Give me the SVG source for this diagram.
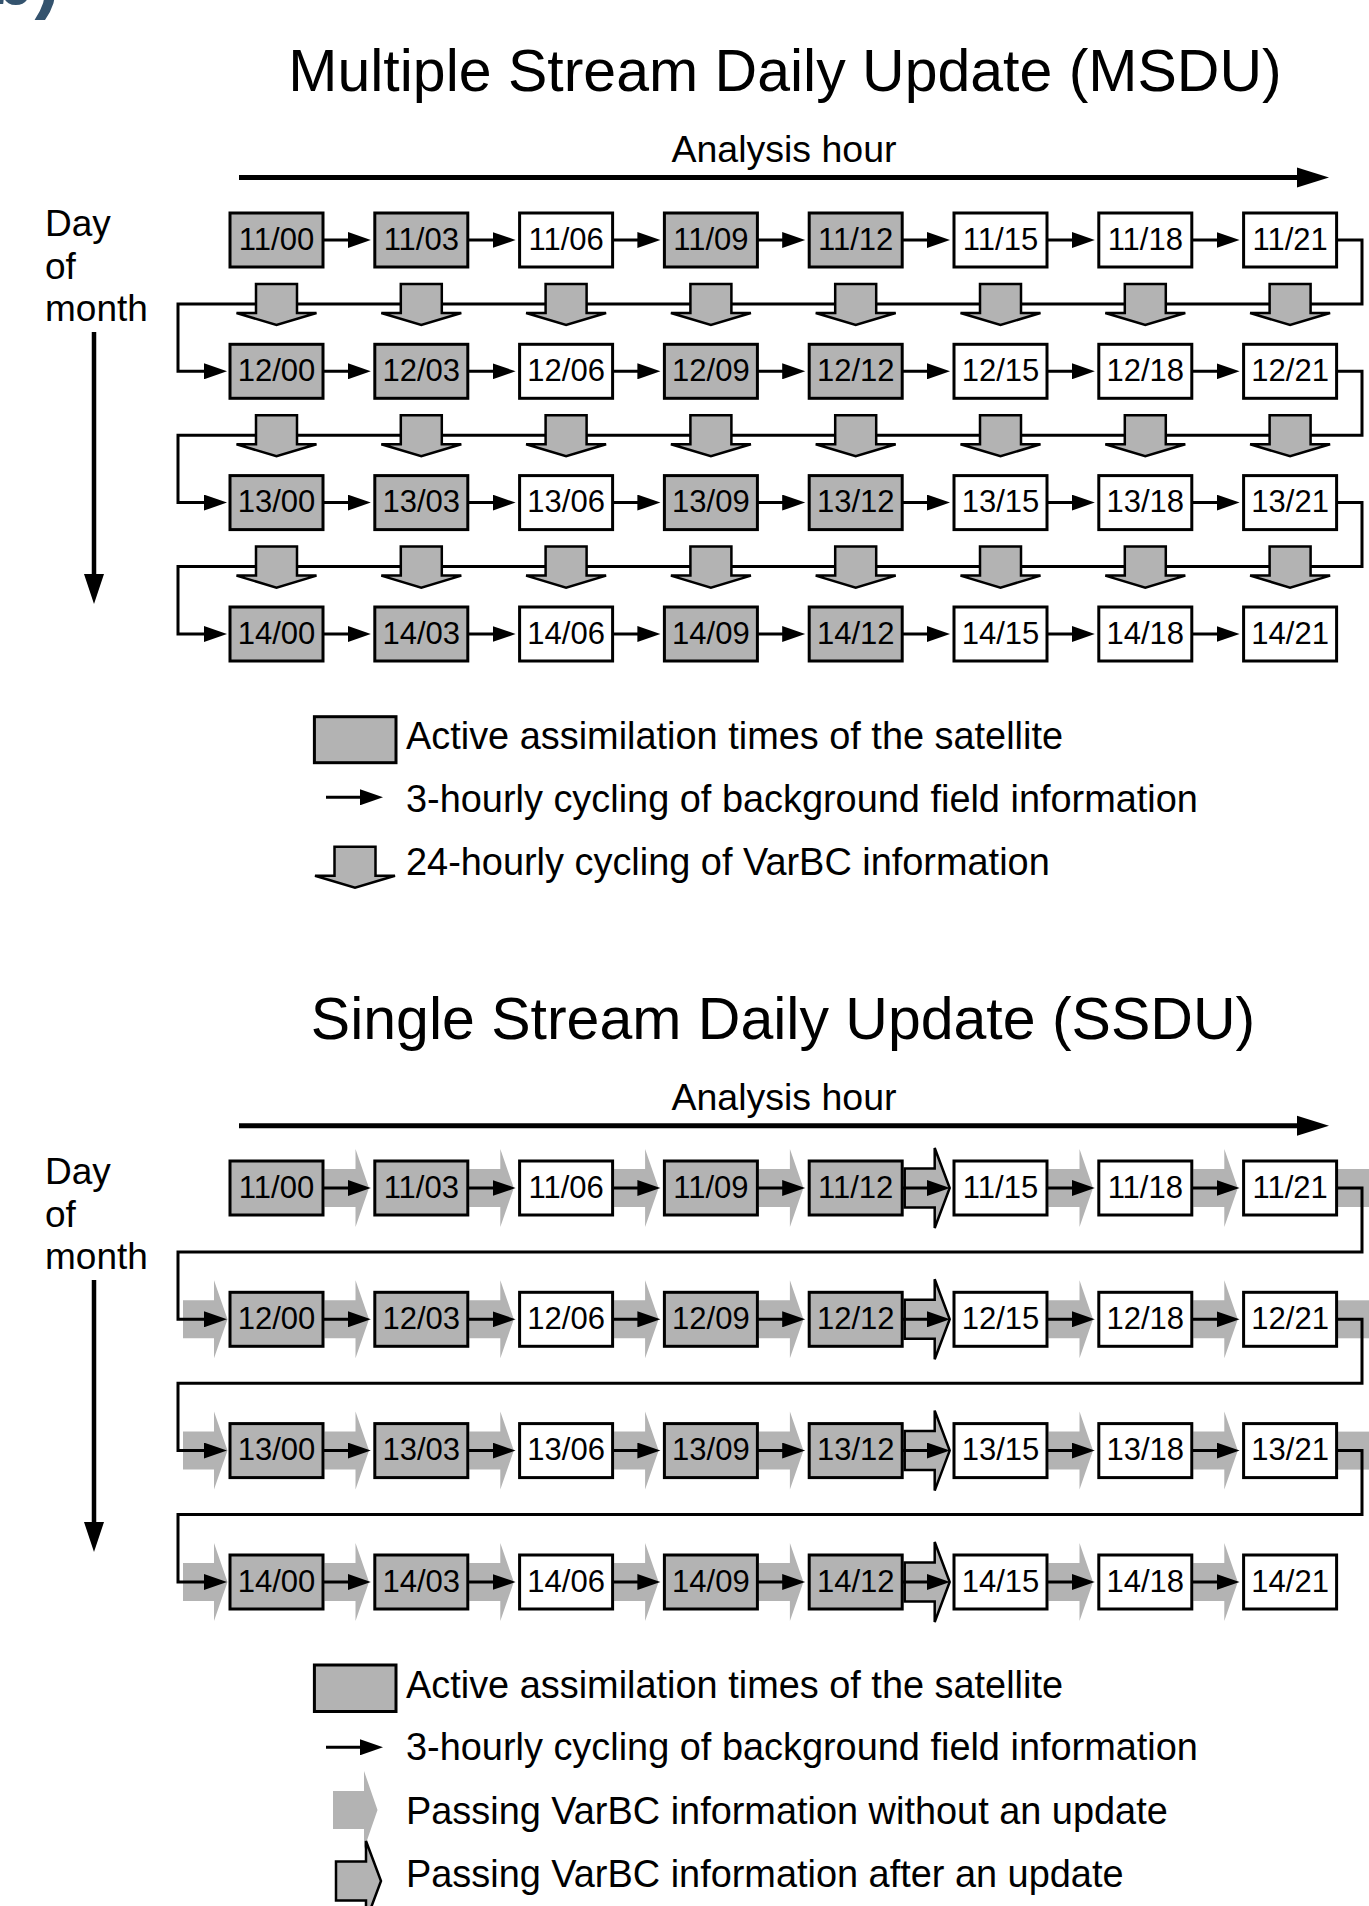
<svg xmlns="http://www.w3.org/2000/svg" xmlns:xlink="http://www.w3.org/1999/xlink" width="1369" height="1906" viewBox="0 0 1369 1906">
<style>
text{font-family:"Liberation Sans",Arial,Helvetica,sans-serif;fill:#000}
.ttl{font-size:59px;text-anchor:middle}
.ax{font-size:37.5px;text-anchor:middle}
.dm{font-size:37px}
.lg{font-size:37.9px}
.lb{font-size:31px;text-anchor:middle}
.bx{stroke:#000;stroke-width:3}
.on{fill:#b3b3b3}
.off{fill:#fff}
.ln{stroke:#000;stroke-width:3;fill:none}
.thick{stroke:#000;stroke-width:5;fill:none}
.blk{fill:#b3b3b3;stroke:#000;stroke-width:2.5;stroke-linejoin:miter}
.chv{fill:#b3b3b3}
.chvo{fill:#b3b3b3;stroke:#000;stroke-width:2.5;stroke-linejoin:miter}
.lab{font-size:76px;font-weight:bold;fill:#34536e}
</style>
<defs>
<marker id="ah" markerUnits="userSpaceOnUse" markerWidth="24" markerHeight="16" refX="13" refY="8" orient="auto"><path d="M0,0 L23,8 L0,16 Z" fill="#000"/></marker>
<path id="blk" class="blk" d="M-20.5,0 H20.5 V29 H40 L0,41 L-40,29 H-20.5 Z"/>
<path id="chv" class="chv" d="M0,-19 H31 V-39 L44.5,0 L31,39 V19 H0 Z"/>
<path id="chvo" class="chvo" d="M0,-19.5 H30 V-40 L45,0 L30,40 V19.5 H0 Z"/>
</defs>

<text class="lab" x="-12" y="4">b)</text>

<!-- ===================== MSDU ===================== -->
<g id="msdu-header">
<text class="ttl" x="785" y="91">Multiple Stream Daily Update (MSDU)</text>
<text class="ax" x="784" y="162">Analysis hour</text>
<line class="thick" x1="239" y1="177.5" x2="1300" y2="177.5"/>
<polygon points="1297,167.5 1329,177.5 1297,187.5"/>
<text class="dm" x="45" y="236">Day</text>
<text class="dm" x="45" y="278.5">of</text>
<text class="dm" x="45" y="321">month</text>
<line x1="94" y1="332" x2="94" y2="578" stroke="#000" stroke-width="4.5"/>
<polygon points="84,574 104,574 94,604"/>
</g>

<g id="msdu-nodes">
<g id="msdu-11-00"><rect class="bx on" x="230" y="213" width="93" height="54"/><text class="lb" x="276.5" y="249.5">11/00</text></g>
<g id="msdu-11-03"><rect class="bx on" x="374.8" y="213" width="93" height="54"/><text class="lb" x="421.3" y="249.5">11/03</text></g>
<g id="msdu-11-06"><rect class="bx off" x="519.6" y="213" width="93" height="54"/><text class="lb" x="566.1" y="249.5">11/06</text></g>
<g id="msdu-11-09"><rect class="bx on" x="664.4" y="213" width="93" height="54"/><text class="lb" x="710.9" y="249.5">11/09</text></g>
<g id="msdu-11-12"><rect class="bx on" x="809.2" y="213" width="93" height="54"/><text class="lb" x="855.7" y="249.5">11/12</text></g>
<g id="msdu-11-15"><rect class="bx off" x="954" y="213" width="93" height="54"/><text class="lb" x="1000.5" y="249.5">11/15</text></g>
<g id="msdu-11-18"><rect class="bx off" x="1098.8" y="213" width="93" height="54"/><text class="lb" x="1145.3" y="249.5">11/18</text></g>
<g id="msdu-11-21"><rect class="bx off" x="1243.6" y="213" width="93" height="54"/><text class="lb" x="1290.1" y="249.5">11/21</text></g>

<g id="msdu-12-00"><rect class="bx on" x="230" y="344.3" width="93" height="54"/><text class="lb" x="276.5" y="380.8">12/00</text></g>
<g id="msdu-12-03"><rect class="bx on" x="374.8" y="344.3" width="93" height="54"/><text class="lb" x="421.3" y="380.8">12/03</text></g>
<g id="msdu-12-06"><rect class="bx off" x="519.6" y="344.3" width="93" height="54"/><text class="lb" x="566.1" y="380.8">12/06</text></g>
<g id="msdu-12-09"><rect class="bx on" x="664.4" y="344.3" width="93" height="54"/><text class="lb" x="710.9" y="380.8">12/09</text></g>
<g id="msdu-12-12"><rect class="bx on" x="809.2" y="344.3" width="93" height="54"/><text class="lb" x="855.7" y="380.8">12/12</text></g>
<g id="msdu-12-15"><rect class="bx off" x="954" y="344.3" width="93" height="54"/><text class="lb" x="1000.5" y="380.8">12/15</text></g>
<g id="msdu-12-18"><rect class="bx off" x="1098.8" y="344.3" width="93" height="54"/><text class="lb" x="1145.3" y="380.8">12/18</text></g>
<g id="msdu-12-21"><rect class="bx off" x="1243.6" y="344.3" width="93" height="54"/><text class="lb" x="1290.1" y="380.8">12/21</text></g>

<g id="msdu-13-00"><rect class="bx on" x="230" y="475.6" width="93" height="54"/><text class="lb" x="276.5" y="512.1">13/00</text></g>
<g id="msdu-13-03"><rect class="bx on" x="374.8" y="475.6" width="93" height="54"/><text class="lb" x="421.3" y="512.1">13/03</text></g>
<g id="msdu-13-06"><rect class="bx off" x="519.6" y="475.6" width="93" height="54"/><text class="lb" x="566.1" y="512.1">13/06</text></g>
<g id="msdu-13-09"><rect class="bx on" x="664.4" y="475.6" width="93" height="54"/><text class="lb" x="710.9" y="512.1">13/09</text></g>
<g id="msdu-13-12"><rect class="bx on" x="809.2" y="475.6" width="93" height="54"/><text class="lb" x="855.7" y="512.1">13/12</text></g>
<g id="msdu-13-15"><rect class="bx off" x="954" y="475.6" width="93" height="54"/><text class="lb" x="1000.5" y="512.1">13/15</text></g>
<g id="msdu-13-18"><rect class="bx off" x="1098.8" y="475.6" width="93" height="54"/><text class="lb" x="1145.3" y="512.1">13/18</text></g>
<g id="msdu-13-21"><rect class="bx off" x="1243.6" y="475.6" width="93" height="54"/><text class="lb" x="1290.1" y="512.1">13/21</text></g>

<g id="msdu-14-00"><rect class="bx on" x="230" y="607" width="93" height="54"/><text class="lb" x="276.5" y="643.5">14/00</text></g>
<g id="msdu-14-03"><rect class="bx on" x="374.8" y="607" width="93" height="54"/><text class="lb" x="421.3" y="643.5">14/03</text></g>
<g id="msdu-14-06"><rect class="bx off" x="519.6" y="607" width="93" height="54"/><text class="lb" x="566.1" y="643.5">14/06</text></g>
<g id="msdu-14-09"><rect class="bx on" x="664.4" y="607" width="93" height="54"/><text class="lb" x="710.9" y="643.5">14/09</text></g>
<g id="msdu-14-12"><rect class="bx on" x="809.2" y="607" width="93" height="54"/><text class="lb" x="855.7" y="643.5">14/12</text></g>
<g id="msdu-14-15"><rect class="bx off" x="954" y="607" width="93" height="54"/><text class="lb" x="1000.5" y="643.5">14/15</text></g>
<g id="msdu-14-18"><rect class="bx off" x="1098.8" y="607" width="93" height="54"/><text class="lb" x="1145.3" y="643.5">14/18</text></g>
<g id="msdu-14-21"><rect class="bx off" x="1243.6" y="607" width="93" height="54"/><text class="lb" x="1290.1" y="643.5">14/21</text></g>
</g>

<g id="msdu-connectors">
<g class="ln" marker-end="url(#ah)">
<line x1="323" y1="240" x2="360.8" y2="240"/><line x1="467.8" y1="240" x2="505.6" y2="240"/><line x1="612.6" y1="240" x2="650.4" y2="240"/><line x1="757.4" y1="240" x2="795.2" y2="240"/><line x1="902.2" y1="240" x2="940" y2="240"/><line x1="1047" y1="240" x2="1084.8" y2="240"/><line x1="1191.8" y1="240" x2="1229.6" y2="240"/>
<line x1="323" y1="371.3" x2="360.8" y2="371.3"/><line x1="467.8" y1="371.3" x2="505.6" y2="371.3"/><line x1="612.6" y1="371.3" x2="650.4" y2="371.3"/><line x1="757.4" y1="371.3" x2="795.2" y2="371.3"/><line x1="902.2" y1="371.3" x2="940" y2="371.3"/><line x1="1047" y1="371.3" x2="1084.8" y2="371.3"/><line x1="1191.8" y1="371.3" x2="1229.6" y2="371.3"/>
<line x1="323" y1="502.6" x2="360.8" y2="502.6"/><line x1="467.8" y1="502.6" x2="505.6" y2="502.6"/><line x1="612.6" y1="502.6" x2="650.4" y2="502.6"/><line x1="757.4" y1="502.6" x2="795.2" y2="502.6"/><line x1="902.2" y1="502.6" x2="940" y2="502.6"/><line x1="1047" y1="502.6" x2="1084.8" y2="502.6"/><line x1="1191.8" y1="502.6" x2="1229.6" y2="502.6"/>
<line x1="323" y1="634" x2="360.8" y2="634"/><line x1="467.8" y1="634" x2="505.6" y2="634"/><line x1="612.6" y1="634" x2="650.4" y2="634"/><line x1="757.4" y1="634" x2="795.2" y2="634"/><line x1="902.2" y1="634" x2="940" y2="634"/><line x1="1047" y1="634" x2="1084.8" y2="634"/><line x1="1191.8" y1="634" x2="1229.6" y2="634"/>
<path d="M1336.6,240 H1362 V304 H178 V371.3 H217"/>
<path d="M1336.6,371.3 H1362 V435.3 H178 V502.6 H217"/>
<path d="M1336.6,502.6 H1362 V566.6 H178 V634 H217"/>
</g>
<g id="msdu-varbc">
<use xlink:href="#blk" x="276.5" y="284"/><use xlink:href="#blk" x="421.3" y="284"/><use xlink:href="#blk" x="566.1" y="284"/><use xlink:href="#blk" x="710.9" y="284"/><use xlink:href="#blk" x="855.7" y="284"/><use xlink:href="#blk" x="1000.5" y="284"/><use xlink:href="#blk" x="1145.3" y="284"/><use xlink:href="#blk" x="1290.1" y="284"/>
<use xlink:href="#blk" x="276.5" y="415.3"/><use xlink:href="#blk" x="421.3" y="415.3"/><use xlink:href="#blk" x="566.1" y="415.3"/><use xlink:href="#blk" x="710.9" y="415.3"/><use xlink:href="#blk" x="855.7" y="415.3"/><use xlink:href="#blk" x="1000.5" y="415.3"/><use xlink:href="#blk" x="1145.3" y="415.3"/><use xlink:href="#blk" x="1290.1" y="415.3"/>
<use xlink:href="#blk" x="276.5" y="546.6"/><use xlink:href="#blk" x="421.3" y="546.6"/><use xlink:href="#blk" x="566.1" y="546.6"/><use xlink:href="#blk" x="710.9" y="546.6"/><use xlink:href="#blk" x="855.7" y="546.6"/><use xlink:href="#blk" x="1000.5" y="546.6"/><use xlink:href="#blk" x="1145.3" y="546.6"/><use xlink:href="#blk" x="1290.1" y="546.6"/>
</g>
</g>

<g id="msdu-legend">
<rect class="bx on" x="314.4" y="716.7" width="81.6" height="46"/>
<line class="ln" x1="326" y1="797.3" x2="373" y2="797.3" marker-end="url(#ah)"/>
<use xlink:href="#blk" x="355" y="846.7"/>
<text class="lg" x="406" y="749.3">Active assimilation times of the satellite</text>
<text class="lg" x="406" y="811.5">3-hourly cycling of background field information</text>
<text class="lg" x="406" y="875">24-hourly cycling of VarBC information</text>
</g>

<!-- ===================== SSDU ===================== -->
<g id="ssdu-header">
<text class="ttl" x="783" y="1039">Single Stream Daily Update (SSDU)</text>
<text class="ax" x="784" y="1110">Analysis hour</text>
<line class="thick" x1="239" y1="1125.7" x2="1300" y2="1125.7"/>
<polygon points="1297,1115.7 1329,1125.7 1297,1135.7"/>
<text class="dm" x="45" y="1184">Day</text>
<text class="dm" x="45" y="1226.5">of</text>
<text class="dm" x="45" y="1269">month</text>
<line x1="94" y1="1280" x2="94" y2="1526" stroke="#000" stroke-width="4.5"/>
<polygon points="84,1522 104,1522 94,1552"/>
</g>

<g id="ssdu-varbc-passing">
<use xlink:href="#chv" x="324.5" y="1188"/><use xlink:href="#chv" x="469.3" y="1188"/><use xlink:href="#chv" x="614.1" y="1188"/><use xlink:href="#chv" x="758.9" y="1188"/><use xlink:href="#chv" x="1048.5" y="1188"/><use xlink:href="#chv" x="1193.3" y="1188"/>
<rect class="chv" x="1338" y="1169" width="40" height="38"/>
<use xlink:href="#chv" x="183" y="1319.3"/>
<use xlink:href="#chv" x="324.5" y="1319.3"/><use xlink:href="#chv" x="469.3" y="1319.3"/><use xlink:href="#chv" x="614.1" y="1319.3"/><use xlink:href="#chv" x="758.9" y="1319.3"/><use xlink:href="#chv" x="1048.5" y="1319.3"/><use xlink:href="#chv" x="1193.3" y="1319.3"/>
<rect class="chv" x="1338" y="1300.3" width="40" height="38"/>
<use xlink:href="#chv" x="183" y="1450.6"/>
<use xlink:href="#chv" x="324.5" y="1450.6"/><use xlink:href="#chv" x="469.3" y="1450.6"/><use xlink:href="#chv" x="614.1" y="1450.6"/><use xlink:href="#chv" x="758.9" y="1450.6"/><use xlink:href="#chv" x="1048.5" y="1450.6"/><use xlink:href="#chv" x="1193.3" y="1450.6"/>
<rect class="chv" x="1338" y="1431.6" width="40" height="38"/>
<use xlink:href="#chv" x="183" y="1582"/>
<use xlink:href="#chv" x="324.5" y="1582"/><use xlink:href="#chv" x="469.3" y="1582"/><use xlink:href="#chv" x="614.1" y="1582"/><use xlink:href="#chv" x="758.9" y="1582"/><use xlink:href="#chv" x="1048.5" y="1582"/><use xlink:href="#chv" x="1193.3" y="1582"/>
<use xlink:href="#chvo" x="904.7" y="1188"/><use xlink:href="#chvo" x="904.7" y="1319.3"/><use xlink:href="#chvo" x="904.7" y="1450.6"/><use xlink:href="#chvo" x="904.7" y="1582"/>
</g>

<g id="ssdu-nodes">
<g id="ssdu-11-00"><rect class="bx on" x="230" y="1161" width="93" height="54"/><text class="lb" x="276.5" y="1197.5">11/00</text></g>
<g id="ssdu-11-03"><rect class="bx on" x="374.8" y="1161" width="93" height="54"/><text class="lb" x="421.3" y="1197.5">11/03</text></g>
<g id="ssdu-11-06"><rect class="bx off" x="519.6" y="1161" width="93" height="54"/><text class="lb" x="566.1" y="1197.5">11/06</text></g>
<g id="ssdu-11-09"><rect class="bx on" x="664.4" y="1161" width="93" height="54"/><text class="lb" x="710.9" y="1197.5">11/09</text></g>
<g id="ssdu-11-12"><rect class="bx on" x="809.2" y="1161" width="93" height="54"/><text class="lb" x="855.7" y="1197.5">11/12</text></g>
<g id="ssdu-11-15"><rect class="bx off" x="954" y="1161" width="93" height="54"/><text class="lb" x="1000.5" y="1197.5">11/15</text></g>
<g id="ssdu-11-18"><rect class="bx off" x="1098.8" y="1161" width="93" height="54"/><text class="lb" x="1145.3" y="1197.5">11/18</text></g>
<g id="ssdu-11-21"><rect class="bx off" x="1243.6" y="1161" width="93" height="54"/><text class="lb" x="1290.1" y="1197.5">11/21</text></g>

<g id="ssdu-12-00"><rect class="bx on" x="230" y="1292.3" width="93" height="54"/><text class="lb" x="276.5" y="1328.8">12/00</text></g>
<g id="ssdu-12-03"><rect class="bx on" x="374.8" y="1292.3" width="93" height="54"/><text class="lb" x="421.3" y="1328.8">12/03</text></g>
<g id="ssdu-12-06"><rect class="bx off" x="519.6" y="1292.3" width="93" height="54"/><text class="lb" x="566.1" y="1328.8">12/06</text></g>
<g id="ssdu-12-09"><rect class="bx on" x="664.4" y="1292.3" width="93" height="54"/><text class="lb" x="710.9" y="1328.8">12/09</text></g>
<g id="ssdu-12-12"><rect class="bx on" x="809.2" y="1292.3" width="93" height="54"/><text class="lb" x="855.7" y="1328.8">12/12</text></g>
<g id="ssdu-12-15"><rect class="bx off" x="954" y="1292.3" width="93" height="54"/><text class="lb" x="1000.5" y="1328.8">12/15</text></g>
<g id="ssdu-12-18"><rect class="bx off" x="1098.8" y="1292.3" width="93" height="54"/><text class="lb" x="1145.3" y="1328.8">12/18</text></g>
<g id="ssdu-12-21"><rect class="bx off" x="1243.6" y="1292.3" width="93" height="54"/><text class="lb" x="1290.1" y="1328.8">12/21</text></g>

<g id="ssdu-13-00"><rect class="bx on" x="230" y="1423.6" width="93" height="54"/><text class="lb" x="276.5" y="1460.1">13/00</text></g>
<g id="ssdu-13-03"><rect class="bx on" x="374.8" y="1423.6" width="93" height="54"/><text class="lb" x="421.3" y="1460.1">13/03</text></g>
<g id="ssdu-13-06"><rect class="bx off" x="519.6" y="1423.6" width="93" height="54"/><text class="lb" x="566.1" y="1460.1">13/06</text></g>
<g id="ssdu-13-09"><rect class="bx on" x="664.4" y="1423.6" width="93" height="54"/><text class="lb" x="710.9" y="1460.1">13/09</text></g>
<g id="ssdu-13-12"><rect class="bx on" x="809.2" y="1423.6" width="93" height="54"/><text class="lb" x="855.7" y="1460.1">13/12</text></g>
<g id="ssdu-13-15"><rect class="bx off" x="954" y="1423.6" width="93" height="54"/><text class="lb" x="1000.5" y="1460.1">13/15</text></g>
<g id="ssdu-13-18"><rect class="bx off" x="1098.8" y="1423.6" width="93" height="54"/><text class="lb" x="1145.3" y="1460.1">13/18</text></g>
<g id="ssdu-13-21"><rect class="bx off" x="1243.6" y="1423.6" width="93" height="54"/><text class="lb" x="1290.1" y="1460.1">13/21</text></g>

<g id="ssdu-14-00"><rect class="bx on" x="230" y="1555" width="93" height="54"/><text class="lb" x="276.5" y="1591.5">14/00</text></g>
<g id="ssdu-14-03"><rect class="bx on" x="374.8" y="1555" width="93" height="54"/><text class="lb" x="421.3" y="1591.5">14/03</text></g>
<g id="ssdu-14-06"><rect class="bx off" x="519.6" y="1555" width="93" height="54"/><text class="lb" x="566.1" y="1591.5">14/06</text></g>
<g id="ssdu-14-09"><rect class="bx on" x="664.4" y="1555" width="93" height="54"/><text class="lb" x="710.9" y="1591.5">14/09</text></g>
<g id="ssdu-14-12"><rect class="bx on" x="809.2" y="1555" width="93" height="54"/><text class="lb" x="855.7" y="1591.5">14/12</text></g>
<g id="ssdu-14-15"><rect class="bx off" x="954" y="1555" width="93" height="54"/><text class="lb" x="1000.5" y="1591.5">14/15</text></g>
<g id="ssdu-14-18"><rect class="bx off" x="1098.8" y="1555" width="93" height="54"/><text class="lb" x="1145.3" y="1591.5">14/18</text></g>
<g id="ssdu-14-21"><rect class="bx off" x="1243.6" y="1555" width="93" height="54"/><text class="lb" x="1290.1" y="1591.5">14/21</text></g>
</g>

<g id="ssdu-connectors" class="ln" marker-end="url(#ah)">
<line x1="323" y1="1188" x2="360.8" y2="1188"/><line x1="467.8" y1="1188" x2="505.6" y2="1188"/><line x1="612.6" y1="1188" x2="650.4" y2="1188"/><line x1="757.4" y1="1188" x2="795.2" y2="1188"/><line x1="902.2" y1="1188" x2="940" y2="1188"/><line x1="1047" y1="1188" x2="1084.8" y2="1188"/><line x1="1191.8" y1="1188" x2="1229.6" y2="1188"/>
<line x1="323" y1="1319.3" x2="360.8" y2="1319.3"/><line x1="467.8" y1="1319.3" x2="505.6" y2="1319.3"/><line x1="612.6" y1="1319.3" x2="650.4" y2="1319.3"/><line x1="757.4" y1="1319.3" x2="795.2" y2="1319.3"/><line x1="902.2" y1="1319.3" x2="940" y2="1319.3"/><line x1="1047" y1="1319.3" x2="1084.8" y2="1319.3"/><line x1="1191.8" y1="1319.3" x2="1229.6" y2="1319.3"/>
<line x1="323" y1="1450.6" x2="360.8" y2="1450.6"/><line x1="467.8" y1="1450.6" x2="505.6" y2="1450.6"/><line x1="612.6" y1="1450.6" x2="650.4" y2="1450.6"/><line x1="757.4" y1="1450.6" x2="795.2" y2="1450.6"/><line x1="902.2" y1="1450.6" x2="940" y2="1450.6"/><line x1="1047" y1="1450.6" x2="1084.8" y2="1450.6"/><line x1="1191.8" y1="1450.6" x2="1229.6" y2="1450.6"/>
<line x1="323" y1="1582" x2="360.8" y2="1582"/><line x1="467.8" y1="1582" x2="505.6" y2="1582"/><line x1="612.6" y1="1582" x2="650.4" y2="1582"/><line x1="757.4" y1="1582" x2="795.2" y2="1582"/><line x1="902.2" y1="1582" x2="940" y2="1582"/><line x1="1047" y1="1582" x2="1084.8" y2="1582"/><line x1="1191.8" y1="1582" x2="1229.6" y2="1582"/>
<path d="M1336.6,1188 H1362 V1252 H178 V1319.3 H217"/>
<path d="M1336.6,1319.3 H1362 V1383.3 H178 V1450.6 H217"/>
<path d="M1336.6,1450.6 H1362 V1514.6 H178 V1582 H217"/>
</g>

<g id="ssdu-legend">
<rect class="bx on" x="314.4" y="1665" width="81.6" height="46.5"/>
<line class="ln" x1="326" y1="1747.3" x2="373" y2="1747.3" marker-end="url(#ah)"/>
<use xlink:href="#chv" x="333" y="1810"/>
<use xlink:href="#chvo" x="336" y="1881"/>
<text class="lg" x="406" y="1697.5">Active assimilation times of the satellite</text>
<text class="lg" x="406" y="1760">3-hourly cycling of background field information</text>
<text class="lg" x="406" y="1824">Passing VarBC information without an update</text>
<text class="lg" x="406" y="1887">Passing VarBC information after an update</text>
</g>
</svg>
